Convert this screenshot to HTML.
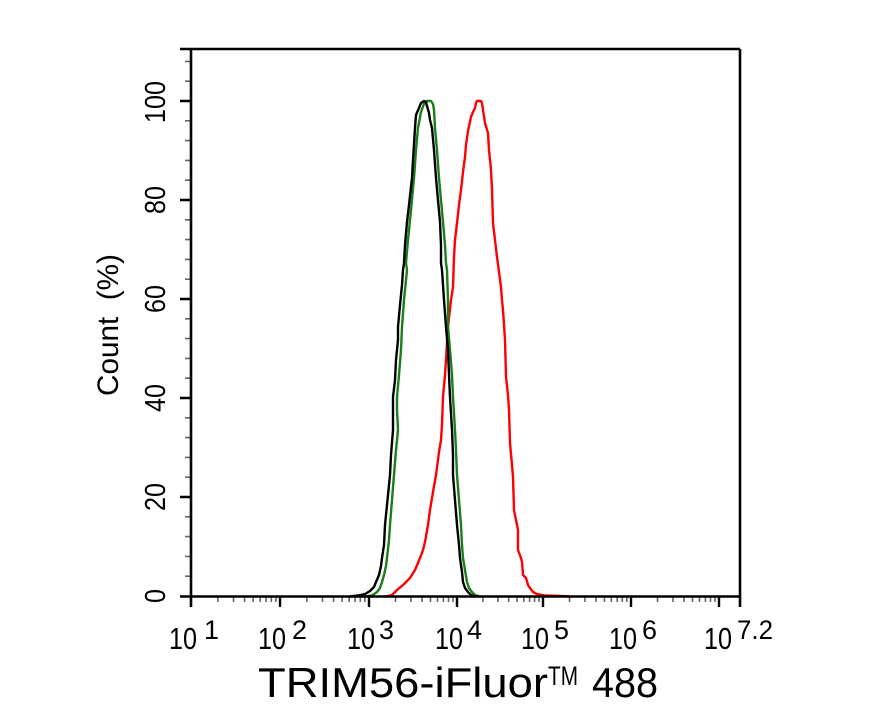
<!DOCTYPE html>
<html>
<head>
<meta charset="utf-8">
<style>
  html, body { margin: 0; padding: 0; background: #ffffff; }
  svg { display: block; }
  text { font-family: "Liberation Sans", Arial, sans-serif; fill: #000; }
</style>
</head>
<body>
<svg width="888" height="711" viewBox="0 0 888 711" xmlns="http://www.w3.org/2000/svg">
  <rect x="0" y="0" width="888" height="711" fill="#ffffff"/>

  <!-- minor x ticks -->
  <g stroke="#666" stroke-width="1.6">
    <path d="M217.8 597V602M233.5 597V602M244.6 597V602M253.2 597V602M260.2 597V602M266.1 597V602M271.3 597V602M275.9 597V602
             M306.8 597V602M322.5 597V602M333.6 597V602M342.2 597V602M349.2 597V602M355.1 597V602M360.3 597V602M364.9 597V602
             M395.5 597V602M411.0 597V602M422.0 597V602M430.5 597V602M437.5 597V602M443.4 597V602M448.5 597V602M453.0 597V602
             M482.9 597V602M498.0 597V602M508.7 597V602M517.0 597V602M523.8 597V602M529.6 597V602M534.6 597V602M539.0 597V602
             M569.5 597V602M584.9 597V602M595.9 597V602M604.4 597V602M611.3 597V602M617.2 597V602M622.3 597V602M626.8 597V602
             M657.5 597V602M673.0 597V602M684.0 597V602M692.5 597V602M699.5 597V602M705.4 597V602M710.5 597V602M715.0 597V602"/>
  </g>
  <!-- minor y ticks -->
  <g stroke="#666" stroke-width="1.6">
    <path d="M185 576.2H191M185 556.4H191M185 536.6H191M185 516.8H191
             M185 477.2H191M185 457.4H191M185 437.6H191M185 417.8H191
             M185 378.2H191M185 358.4H191M185 338.6H191M185 318.8H191
             M185 279.2H191M185 259.4H191M185 239.6H191M185 219.8H191
             M185 180.2H191M185 160.4H191M185 140.6H191M185 120.8H191
             M185 81.2H191M185 61.4H191"/>
  </g>

  <!-- curves -->
  <g fill="none" stroke-width="2.4" stroke-linejoin="round" stroke-linecap="round">
    <polyline stroke="#ff0000" points="385,596.5 392,595 397,590 403,585 410,578 415,570 420,558 423,550 425,542 428,525 430,510 433,492 436,475 438,460 439,452 441,440 442,425 443,397 445,375 446,360 448,327 451,300 453,287 454,257 455,240 457,223 459,205 461,190 463,172 465,157 466,145 468,131 471,117 473,112 475,108 476,103 477,101 481,101 482,103 483,110 485,123 488,133 489,150 491,170 492,190 493,223 495,240 497,257 499,272 501,287 502,300 503,310 505,340 506,377 508,395 509,410 510,443 512,465 513,477 514,510 516,520 518,530 518,550 521,558 522,562 523,575 526,578 528,585 530,588 533,592 537,594 545,595.5 560,596 570,596.5"/>
    <polyline stroke="#1a7f1a" points="365,596.5 372,595.5 377,592 380,588 382,582 384,575 386,566 387,558 389,540 390,525 392,500 394,475 396,450 398,430 397,410 397,397 399,375 401,350 402,327 404,300 406,280 407,270 406,263 408,240 411,210 414,178 416,150 418,128 421,112 424,104 427,101 431,101 433,104 434,110 435,128 437,150 439,178 441,200 443,222 445,245 446,263 447,270 448,300 448,327 450,350 452,375 453,397 455,430 456,450 457,475 459,500 461,525 462,545 463,558 465,570 467,582 469,588 472,592 475,595 480,596.5"/>
    <polyline stroke="#000000" points="350,596.5 358,595.5 365,594 370,591 374,587 376,582 379,575 381,566 382,558 384,545 385,525 387,505 389,485 390,475 391,455 393,430 393,410 393,397 395,380 396,360 398,340 398,327 400,305 402,285 403,270 404,263 405,245 407,222 409,205 412,178 413,160 415,128 416,115 419,108 421,103 424,101 426,102 427,106 429,113 430,120 432,128 434,150 436,178 438,200 440,222 441,245 441,263 442,270 444,300 446,327 448,350 449,375 450,397 452,430 453,455 453,475 455,500 457,525 459,545 460,558 462,572 463,582 465,588 468,592 471,595 475,596.5"/>
  </g>

  <!-- frame -->
  <g stroke="#000" stroke-width="2.6" fill="none">
    <path d="M180 49H740"/>
    <path d="M180 596.5H740"/>
    <path d="M191 49V607"/>
    <path d="M740 49V607"/>
  </g>
  <!-- major ticks -->
  <g stroke="#000" stroke-width="2.4">
    <path d="M280 596V607M369 596V607M457 596V607M543 596V607M631 596V607M719 596V607"/>
    <path d="M180 497H191M180 398H191M180 299H191M180 200H191M180 101H191"/>
  </g>

  <!-- x tick labels -->
  <g font-size="31">
    <text x="169" y="649" textLength="28" lengthAdjust="spacingAndGlyphs">10</text>
    <text x="258" y="649" textLength="28" lengthAdjust="spacingAndGlyphs">10</text>
    <text x="347" y="649" textLength="28" lengthAdjust="spacingAndGlyphs">10</text>
    <text x="435" y="649" textLength="28" lengthAdjust="spacingAndGlyphs">10</text>
    <text x="521" y="649" textLength="28" lengthAdjust="spacingAndGlyphs">10</text>
    <text x="609" y="649" textLength="28" lengthAdjust="spacingAndGlyphs">10</text>
    <text x="704" y="649" textLength="28" lengthAdjust="spacingAndGlyphs">10</text>
  </g>
  <g font-size="27">
    <text x="204" y="639" textLength="15" lengthAdjust="spacingAndGlyphs">1</text>
    <text x="292" y="639" textLength="15" lengthAdjust="spacingAndGlyphs">2</text>
    <text x="379" y="639" textLength="15" lengthAdjust="spacingAndGlyphs">3</text>
    <text x="467" y="639" textLength="15" lengthAdjust="spacingAndGlyphs">4</text>
    <text x="554" y="639" textLength="15" lengthAdjust="spacingAndGlyphs">5</text>
    <text x="642" y="639" textLength="15" lengthAdjust="spacingAndGlyphs">6</text>
    <text x="737" y="639" textLength="36" lengthAdjust="spacingAndGlyphs">7.2</text>
  </g>

  <!-- y tick labels -->
  <g font-size="29" text-anchor="middle">
    <text transform="translate(165 596) rotate(-90)" x="0" y="0" textLength="14" lengthAdjust="spacingAndGlyphs">0</text>
    <text transform="translate(165 497) rotate(-90)" x="0" y="0" textLength="28" lengthAdjust="spacingAndGlyphs">20</text>
    <text transform="translate(165 398) rotate(-90)" x="0" y="0" textLength="28" lengthAdjust="spacingAndGlyphs">40</text>
    <text transform="translate(165 299) rotate(-90)" x="0" y="0" textLength="28" lengthAdjust="spacingAndGlyphs">60</text>
    <text transform="translate(165 200) rotate(-90)" x="0" y="0" textLength="28" lengthAdjust="spacingAndGlyphs">80</text>
    <text transform="translate(165 102) rotate(-90)" x="0" y="0" textLength="42" lengthAdjust="spacingAndGlyphs">100</text>
  </g>

  <!-- y axis title -->
  <text transform="translate(118 325) rotate(-90)" x="0" y="0" font-size="30" text-anchor="middle" textLength="142" lengthAdjust="spacingAndGlyphs" xml:space="preserve">Count  (%)</text>

  <!-- x axis title -->
  <text x="258" y="697" font-size="42" textLength="290" lengthAdjust="spacingAndGlyphs">TRIM56-iFluor</text>
  <text x="548" y="685" font-size="27" textLength="30" lengthAdjust="spacingAndGlyphs">TM</text>
  <text x="592" y="697" font-size="42" textLength="66" lengthAdjust="spacingAndGlyphs">488</text>
</svg>
</body>
</html>
